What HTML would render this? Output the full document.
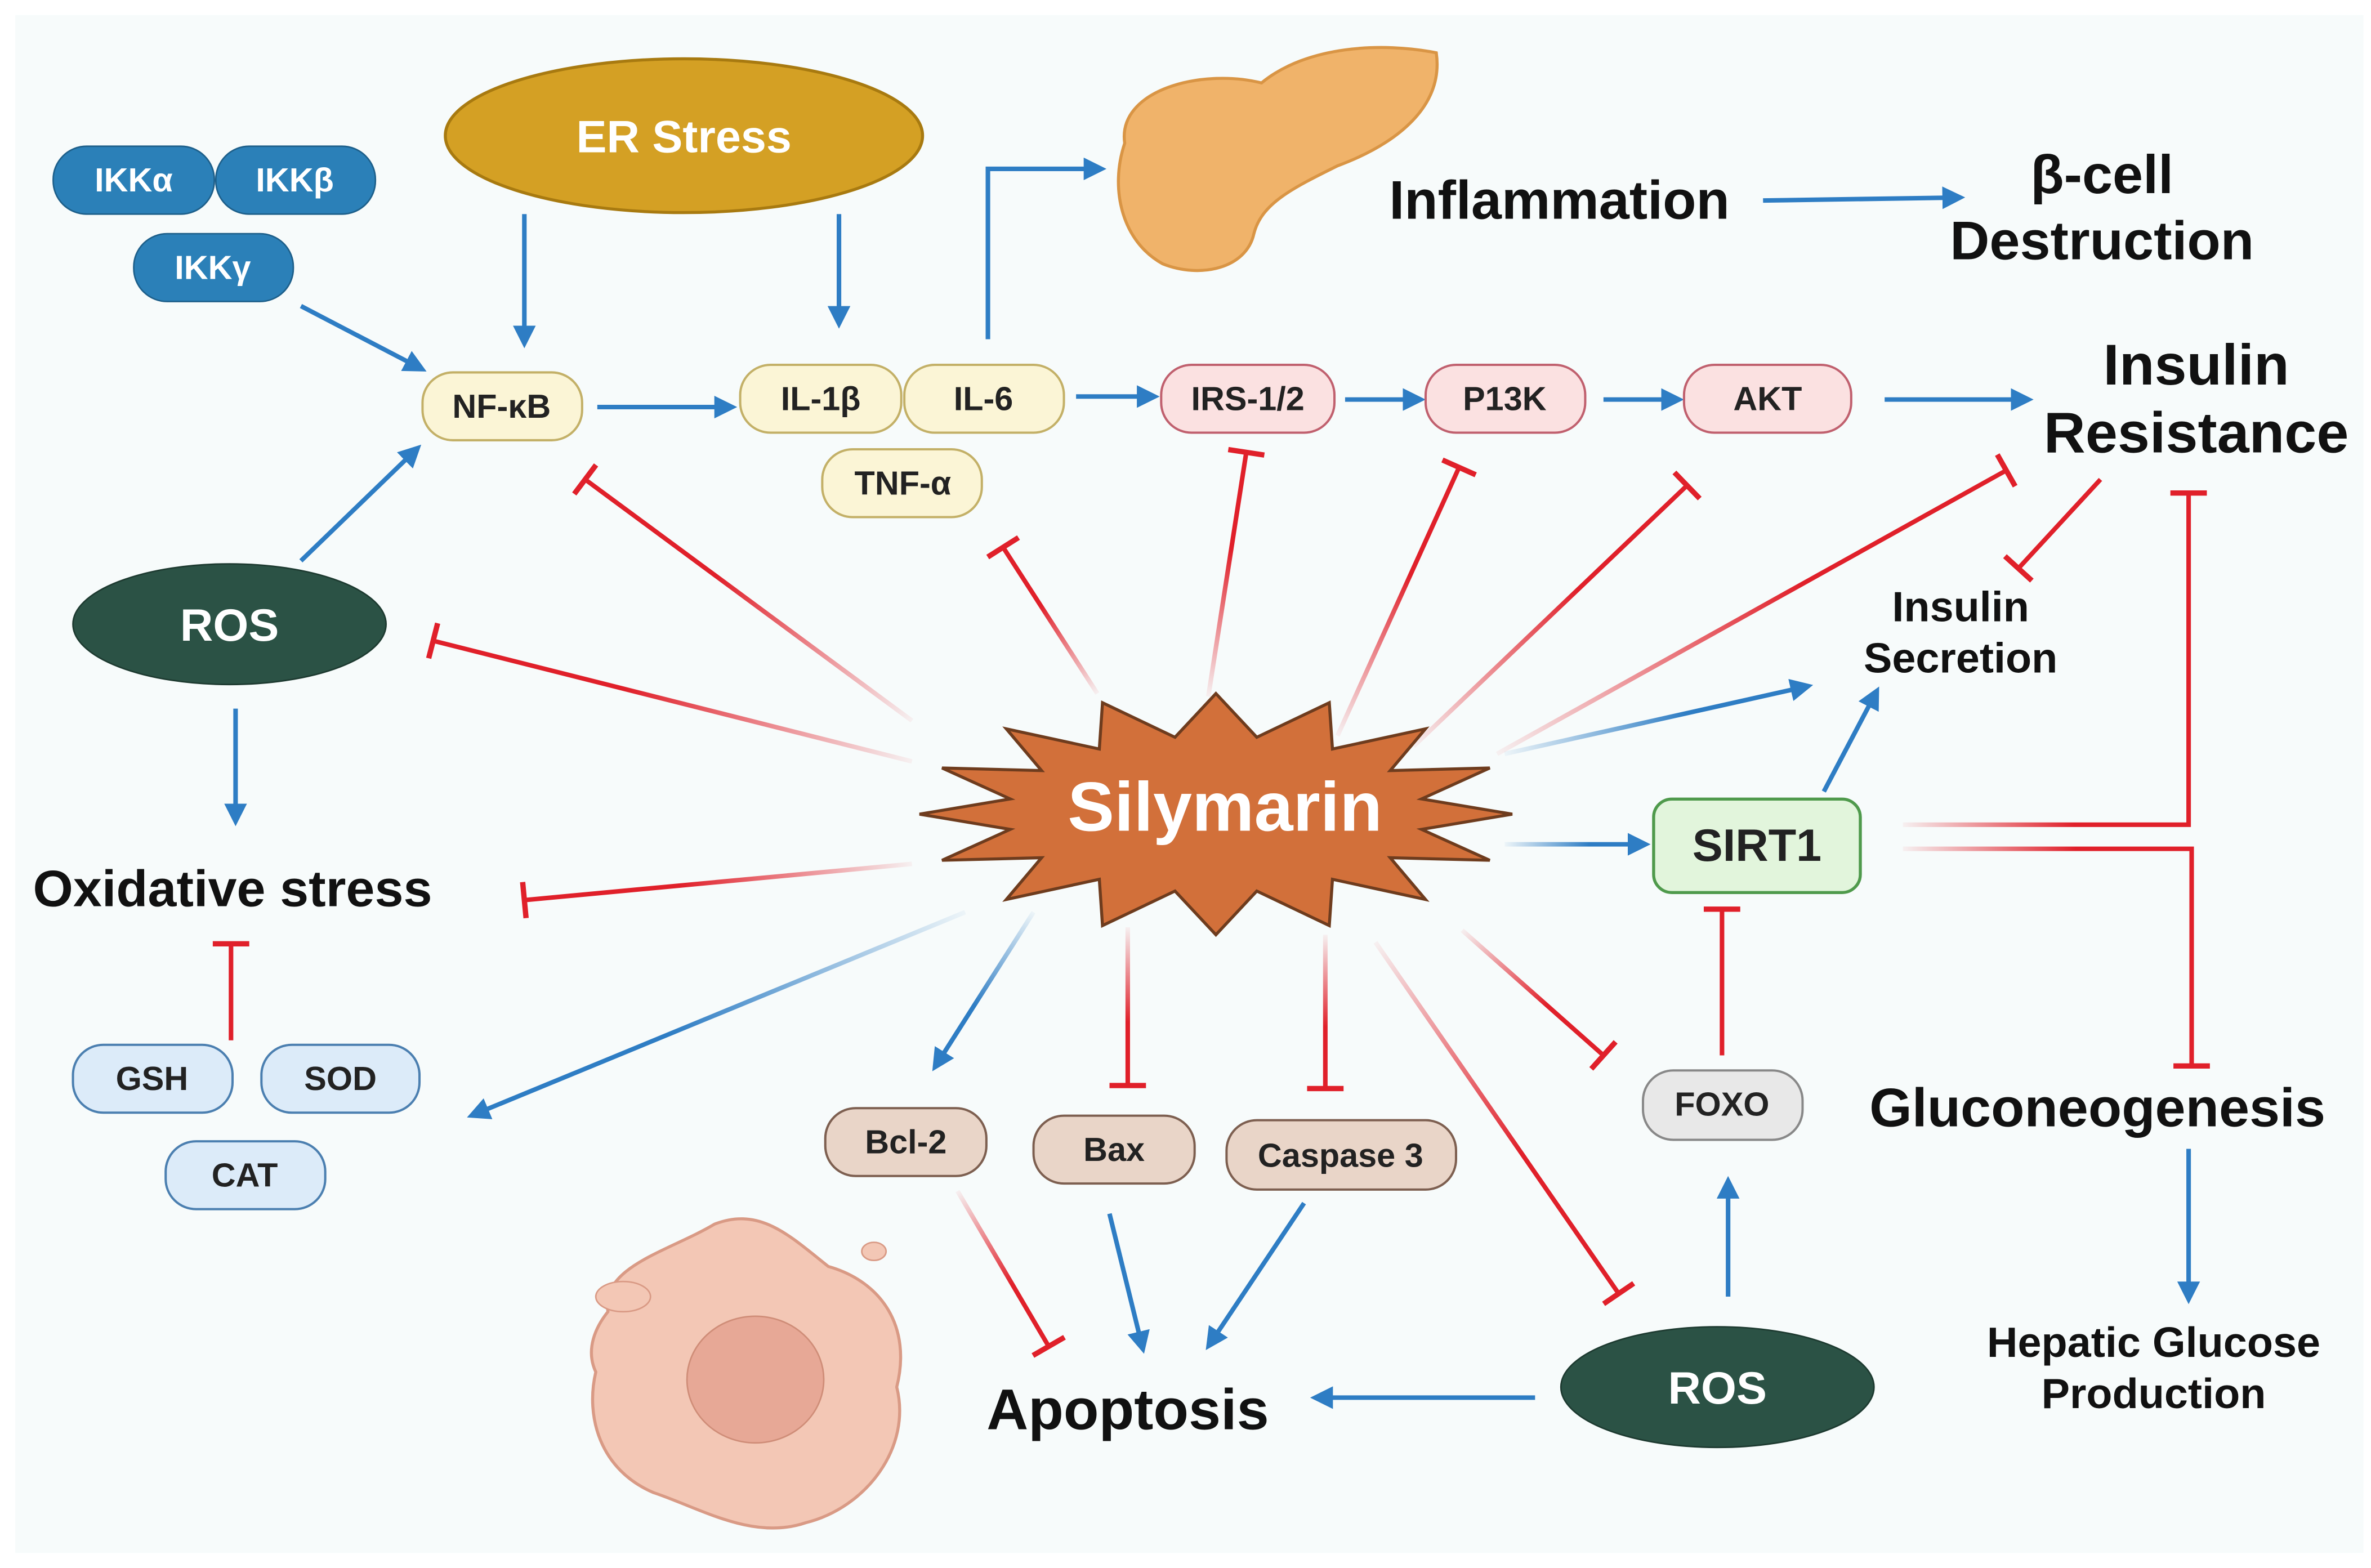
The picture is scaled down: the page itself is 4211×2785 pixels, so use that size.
<!DOCTYPE html>
<html><head><meta charset="utf-8"><style>
html,body{margin:0;padding:0;background:#fff}
svg{display:block}
text{font-family:"Liberation Sans",sans-serif;font-weight:bold}
</style></head><body>
<svg id="s" width="4211" height="2785" viewBox="0 0 1560 1040" preserveAspectRatio="none" xmlns="http://www.w3.org/2000/svg">
<defs>
<marker id="ah" viewBox="0 0 10 10" refX="8" refY="5" markerWidth="5" markerHeight="5" orient="auto"><path d="M0,0 L10,5 L0,10 z" fill="#2e7dc4"/></marker>
</defs>
<rect x="0" y="0" width="1560" height="1040" fill="#fff"/>
<rect x="10" y="10" width="1545" height="1020" fill="#f7fbfb"/>
<g id="lines"></g>

<!-- pancreas -->
<path d="M740,95 C735,60 790,45 830,55 C860,30 910,28 945,35 C950,70 920,95 880,110 C850,125 830,135 825,155 C820,178 790,185 765,175 C738,160 730,125 740,95 z" fill="#f0b36a" stroke="#d99545" stroke-width="2"/>
<!-- cell -->
<path d="M400,870 C395,840 440,830 470,812 C500,800 520,820 545,840 C580,850 600,880 590,920 C600,960 570,1000 530,1010 C495,1022 460,1000 430,990 C395,975 385,940 392,910 C385,895 392,880 400,870 z" fill="#f3c7b5" stroke="#d99a85" stroke-width="2"/>
<ellipse cx="497" cy="915" rx="45" ry="42" fill="#e7a896" stroke="#cf8d78"/>
<ellipse cx="410" cy="860" rx="18" ry="10" fill="#f3c7b5" stroke="#d99a85"/>
<ellipse cx="575" cy="830" rx="8" ry="6" fill="#f3c7b5" stroke="#d99a85"/>

<!-- ER stress -->
<ellipse cx="450" cy="90" rx="157" ry="51" fill="#d4a024" stroke="#a87a10" stroke-width="2"/>
<text x="450" y="101" font-size="30" fill="#fff" text-anchor="middle">ER Stress</text>

<!-- IKK -->
<g font-size="22" fill="#fff" text-anchor="middle">
<rect x="35" y="97" width="106" height="45" rx="22" fill="#2b80b8" stroke="#1d5f8a"/>
<text x="88" y="127">IKKα</text>
<rect x="142" y="97" width="105" height="45" rx="22" fill="#2b80b8" stroke="#1d5f8a"/>
<text x="194" y="127">IKKβ</text>
<rect x="88" y="155" width="105" height="45" rx="22" fill="#2b80b8" stroke="#1d5f8a"/>
<text x="140" y="185">IKKγ</text>
</g>

<g font-size="22" fill="#222" text-anchor="middle">
<rect x="278" y="247" width="105" height="45" rx="20" fill="#fbf5d6" stroke="#c3b067" stroke-width="1.5"/>
<text x="330" y="277">NF-κB</text>
<rect x="487" y="242" width="106" height="45" rx="20" fill="#fbf5d6" stroke="#c3b067" stroke-width="1.5"/>
<text x="540" y="272">IL-1β</text>
<rect x="595" y="242" width="105" height="45" rx="20" fill="#fbf5d6" stroke="#c3b067" stroke-width="1.5"/>
<text x="647" y="272">IL-6</text>
<rect x="541" y="298" width="105" height="45" rx="20" fill="#fbf5d6" stroke="#c3b067" stroke-width="1.5"/>
<text x="594" y="328">TNF-α</text>

<rect x="764" y="242" width="114" height="45" rx="20" fill="#fbe1e1" stroke="#c0606e" stroke-width="1.5"/>
<text x="821" y="272">IRS-1/2</text>
<rect x="938" y="242" width="105" height="45" rx="20" fill="#fbe1e1" stroke="#c0606e" stroke-width="1.5"/>
<text x="990" y="272">P13K</text>
<rect x="1108" y="242" width="110" height="45" rx="20" fill="#fbe1e1" stroke="#c0606e" stroke-width="1.5"/>
<text x="1163" y="272">AKT</text>

<rect x="48" y="693" width="105" height="45" rx="20" fill="#dcebf9" stroke="#4b7fb0" stroke-width="1.5"/>
<text x="100" y="723">GSH</text>
<rect x="172" y="693" width="104" height="45" rx="20" fill="#dcebf9" stroke="#4b7fb0" stroke-width="1.5"/>
<text x="224" y="723">SOD</text>
<rect x="109" y="757" width="105" height="45" rx="20" fill="#dcebf9" stroke="#4b7fb0" stroke-width="1.5"/>
<text x="161" y="787">CAT</text>

<rect x="543" y="735" width="106" height="45" rx="20" fill="#e9d5c8" stroke="#7d5f50" stroke-width="1.5"/>
<text x="596" y="765">Bcl-2</text>
<rect x="680" y="740" width="106" height="45" rx="20" fill="#e9d5c8" stroke="#7d5f50" stroke-width="1.5"/>
<text x="733" y="770">Bax</text>
<rect x="807" y="743" width="151" height="46" rx="20" fill="#e9d5c8" stroke="#7d5f50" stroke-width="1.5"/>
<text x="882" y="774">Caspase 3</text>

<rect x="1081" y="710" width="105" height="46" rx="20" fill="#e8e8e8" stroke="#888" stroke-width="1.5"/>
<text x="1133" y="740">FOXO</text>
</g>

<rect x="1088" y="530" width="136" height="62" rx="12" fill="#e2f5dc" stroke="#4f9a4c" stroke-width="2"/>
<text x="1156" y="571" font-size="30" fill="#222" text-anchor="middle">SIRT1</text>

<ellipse cx="151" cy="414" rx="103" ry="40" fill="#2b5245" stroke="#1d3a30"/>
<text x="151" y="425" font-size="30" fill="#fff" text-anchor="middle">ROS</text>
<ellipse cx="1130" cy="920" rx="103" ry="40" fill="#2b5245" stroke="#1d3a30"/>
<text x="1130" y="931" font-size="30" fill="#fff" text-anchor="middle">ROS</text>

<polygon id="star" fill="#d2703a" stroke="#6e3c1e" stroke-width="2"/>
<text x="806" y="551" font-size="46" fill="#fff" text-anchor="middle">Silymarin</text>

<g fill="#111" text-anchor="middle">
<text x="153" y="601" font-size="34">Oxidative stress</text>
<text x="1026" y="145" font-size="36">Inflammation</text>
<text x="1383" y="128" font-size="36">β-cell</text>
<text x="1383" y="172" font-size="36">Destruction</text>
<text x="1445" y="255" font-size="38">Insulin</text>
<text x="1445" y="300" font-size="38">Resistance</text>
<text x="1290" y="412" font-size="28">Insulin</text>
<text x="1290" y="446" font-size="28">Secretion</text>
<text x="1380" y="747" font-size="36">Gluconeogenesis</text>
<text x="1417" y="900" font-size="28">Hepatic Glucose</text>
<text x="1417" y="934" font-size="28">Production</text>
<text x="742" y="948" font-size="38">Apoptosis</text>
</g>
</svg>
<script>
var NS="http://www.w3.org/2000/svg",g=document.getElementById("lines"),defs=document.querySelector("defs"),n=0;
function el(t,a,p){var e=document.createElementNS(NS,t);for(var k in a)e.setAttribute(k,a[k]);(p||g).appendChild(e);return e;}
function grad(x1,y1,x2,y2,c,fade){var id="g"+(n++);var lg=el("linearGradient",{id:id,gradientUnits:"userSpaceOnUse",x1:x1,y1:y1,x2:x2,y2:y2},defs);
el("stop",{offset:"0","stop-color":c,"stop-opacity":fade?0.05:1},lg);el("stop",{offset:fade?"0.6":"1","stop-color":c,"stop-opacity":1},lg);return "url(#"+id+")";}
function arrow(p,fade){var s=p[0],e=p[p.length-1];var st=fade?grad(s[0],s[1],e[0],e[1],"#2e7dc4",1):"#2e7dc4";
el("polyline",{points:p.join(" "),fill:"none",stroke:st,"stroke-width":3,"marker-end":"url(#ah)"});}
function inh(p,fade){var s=p[0],e=p[p.length-1],q=p[p.length-2];var st=fade?grad(s[0],s[1],e[0],e[1],"#e0202a",1):"#e0202a";
if(fade&&p.length>2)st=grad(s[0],s[1],p[1][0],p[1][1],"#e0202a",1);
el("polyline",{points:p.join(" "),fill:"none",stroke:st,"stroke-width":3});
var dx=e[0]-q[0],dy=e[1]-q[1],L=Math.hypot(dx,dy),nx=-dy/L*12,ny=dx/L*12;
el("line",{x1:e[0]+nx,y1:e[1]+ny,x2:e[0]-nx,y2:e[1]-ny,stroke:"#e0202a","stroke-width":3.5});}
arrow([[198,203],[278,245]]);arrow([[345,142],[345,228]]);arrow([[552,142],[552,215]]);
arrow([[198,372],[275,297]]);arrow([[393,270],[482,270]]);arrow([[650,225],[650,112],[725,112]]);
arrow([[708,263],[760,263]]);arrow([[885,265],[935,265]]);arrow([[1055,265],[1105,265]]);
arrow([[1240,265],[1335,265]]);arrow([[1160,133],[1290,131]]);arrow([[155,470],[155,545]]);
arrow([[635,605],[310,740]],1);arrow([[680,605],[615,708]],1);arrow([[990,560],[1083,560]],1);
arrow([[990,500],[1190,455]],1);arrow([[1200,525],[1235,458]]);arrow([[1137,860],[1137,783]]);
arrow([[1010,927],[865,927]]);arrow([[730,805],[752,895]]);arrow([[858,798],[795,893]]);arrow([[1440,762],[1440,862]]);
inh([[600,478],[385,318]],1);inh([[600,505],[285,425]],1);inh([[600,573],[345,597]],1);
inh([[722,460],[660,363]],1);inh([[795,462],[820,300]],1);inh([[880,488],[960,310]],1);
inh([[930,495],[1110,322]],1);inh([[985,500],[1320,312]],1);inh([[1382,318],[1328,377]]);
inh([[742,615],[742,720]],1);inh([[872,620],[872,722]],1);inh([[962,617],[1055,700]],1);
inh([[905,625],[1065,858]],1);inh([[1133,700],[1133,603]]);inh([[152,690],[152,626]]);
inh([[630,790],[690,893]],1);inh([[1252,547],[1440,547],[1440,327]],1);inh([[1252,563],[1442,563],[1442,707]],1);
var pts=[],N=16,cx=800,cy=540;
for(var i=0;i<2*N;i++){var a=Math.PI*i/N-Math.PI/2,o=i%2==0;var rx=o?195:138,ry=o?80:52;pts.push((cx+rx*Math.cos(a)).toFixed(1)+","+(cy+ry*Math.sin(a)).toFixed(1));}
document.getElementById("star").setAttribute("points",pts.join(" "));
</script>
</body></html>
